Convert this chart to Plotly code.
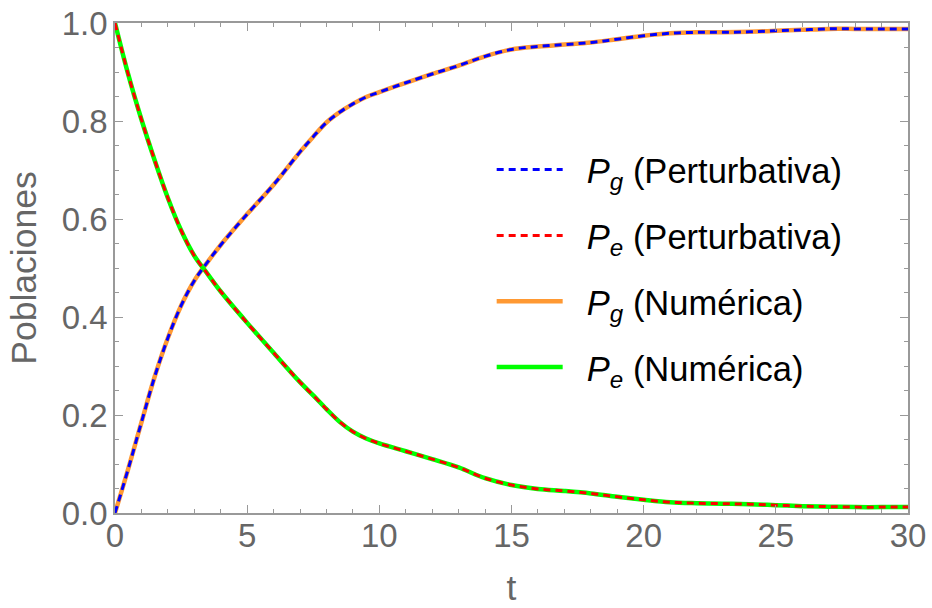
import plotly.graph_objects as go

# Time samples and populations of the ground (g) and excited (e) states
t = [0, 0.5, 1, 1.5, 2, 2.5, 3, 3.5, 4, 5, 6, 7, 7.5, 8, 8.5, 9, 9.5, 10, 11, 12,
     13, 14, 15, 16, 17, 18, 19, 20, 21, 22, 23, 24, 25, 26, 27, 28, 29, 30]

p_g = [0.0, 0.09, 0.185, 0.278, 0.357, 0.423, 0.474, 0.512, 0.547, 0.610, 0.670,
       0.737, 0.768, 0.797, 0.818, 0.835, 0.849, 0.859, 0.878, 0.896, 0.913, 0.932,
       0.946, 0.952, 0.956, 0.960, 0.967, 0.974, 0.979, 0.981, 0.981, 0.982, 0.984,
       0.986, 0.988, 0.988, 0.988, 0.988]

p_e = [1.0, 0.895, 0.803, 0.720, 0.643, 0.577, 0.525, 0.488, 0.452, 0.388, 0.327,
       0.267, 0.240, 0.212, 0.186, 0.166, 0.152, 0.142, 0.126, 0.110, 0.093, 0.071,
       0.057, 0.049, 0.045, 0.040, 0.033, 0.027, 0.022, 0.020, 0.019, 0.018, 0.016,
       0.014, 0.013, 0.012, 0.012, 0.012]

FONT = "Liberation Sans, Arial, sans-serif"
GRAY = "#666666"
FRAME = "#999999"
GAP = "&nbsp;&nbsp;"

fig = go.Figure()

# Numerical solution (solid, drawn underneath)
fig.add_trace(go.Scatter(x=t, y=p_g, mode="lines", line_shape="spline",
                         line=dict(color="#FF9933", width=4.5),
                         name=GAP + "<i>P<sub>g</sub></i> (Numérica)", legendgroup="c",
                         legendrank=3))
fig.add_trace(go.Scatter(x=t, y=p_e, mode="lines", line_shape="spline",
                         line=dict(color="#00FF00", width=4.5),
                         name=GAP + "<i>P<sub>e</sub></i> (Numérica)", legendgroup="d",
                         legendrank=4))
# Perturbative solution (dashed, on top)
fig.add_trace(go.Scatter(x=t, y=p_g, mode="lines", line_shape="spline",
                         line=dict(color="#0000FF", width=3, dash="7px,5px"),
                         name=GAP + "<i>P<sub>g</sub></i> (Perturbativa)", legendgroup="a",
                         legendrank=1))
fig.add_trace(go.Scatter(x=t, y=p_e, mode="lines", line_shape="spline",
                         line=dict(color="#FF0000", width=3, dash="7px,5px"),
                         name=GAP + "<i>P<sub>e</sub></i> (Perturbativa)", legendgroup="b",
                         legendrank=2))

axis_common = dict(
    showline=True, linecolor=FRAME, linewidth=1.5, mirror="ticks",
    ticks="inside", ticklen=8, tickcolor=FRAME, tickwidth=1.2,
    showgrid=False, zeroline=False, automargin=False,
    tickfont=dict(family=FONT, size=33, color=GRAY),
    title_font=dict(family=FONT, size=35.5, color=GRAY),
)

fig.update_xaxes(range=[0, 30], tick0=0, dtick=5,
                 minor=dict(ticks="inside", ticklen=4, dtick=1, tickcolor=FRAME),
                 title_text="t", title_standoff=26, ticklabelstandoff=-7,
                 **axis_common)
fig.update_yaxes(range=[0, 1], tick0=0, dtick=0.2, tickformat=".1f",
                 minor=dict(ticks="inside", ticklen=4, dtick=0.05, tickcolor=FRAME),
                 title_text="Poblaciones", title_standoff=14, ticklabelstandoff=-1,
                 **axis_common)

fig.update_layout(
    width=932, height=608,
    margin=dict(l=115, r=24, t=23, b=95),
    plot_bgcolor="white", paper_bgcolor="white",
    showlegend=True,
    legend=dict(x=0.475, y=0.76, xanchor="left", yanchor="top",
                font=dict(family=FONT, size=34.5, color="black"),
                bgcolor="rgba(0,0,0,0)", itemwidth=66, tracegroupgap=18,
                traceorder="grouped"),
)

fig.write_html("out.html")
